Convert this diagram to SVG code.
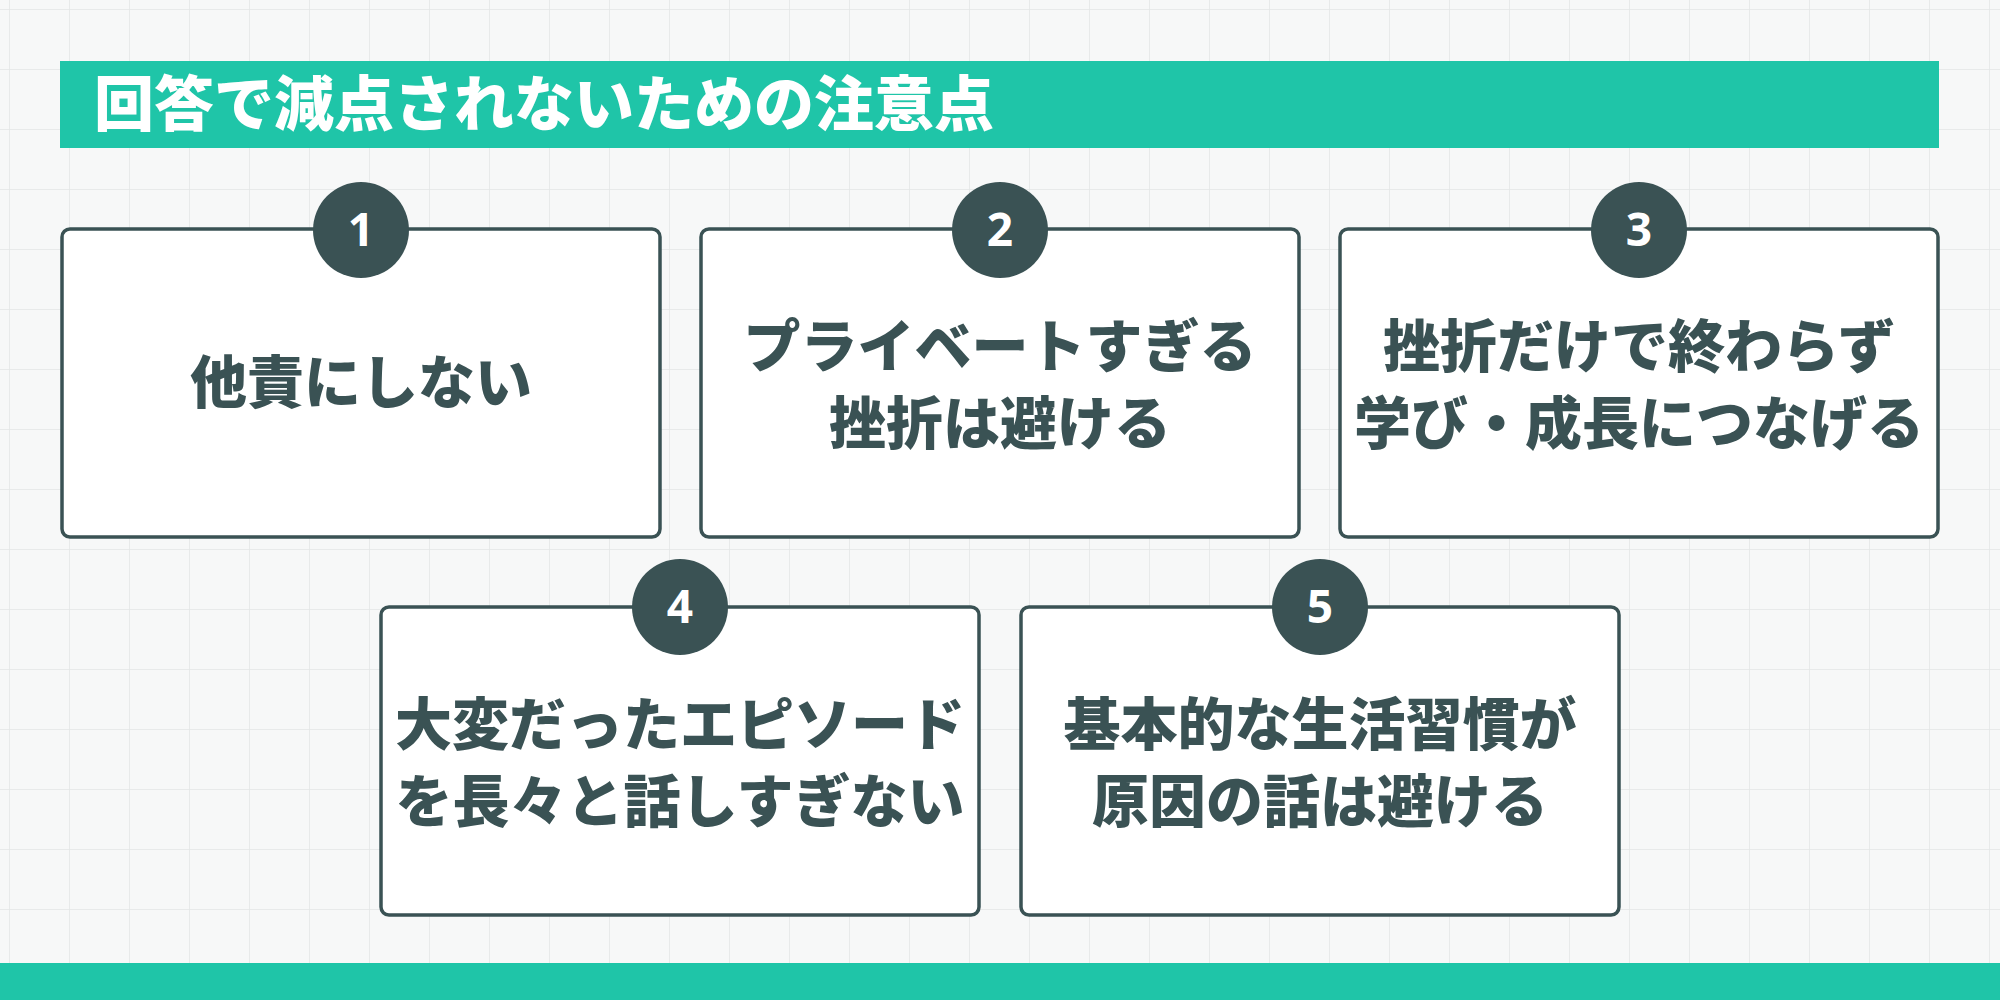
<svg xmlns="http://www.w3.org/2000/svg" width="2000" height="1000" viewBox="0 0 2000 1000">
<defs>
<pattern id="grid" width="60" height="60" patternUnits="userSpaceOnUse" x="10" y="10">
<path d="M60 0V60M0 60H60" fill="none" stroke="#e3e6e6" stroke-width="1.5"/>
</pattern>
<style>
.box{fill:#fff;stroke:#3a5254;stroke-width:3.5}
.c{fill:#3a5254}
.n{font-family:"Noto Sans",sans-serif;font-weight:700;font-size:46px;fill:#fff;text-anchor:middle}
.t{font-family:"Noto Sans CJK JP",sans-serif;font-weight:900;font-size:57px;fill:#3a5254;text-anchor:middle}
</style>
</defs>
<rect width="2000" height="1000" fill="#f7f8f8"/>
<rect width="2000" height="1000" fill="url(#grid)"/>
<rect x="60" y="61" width="1879" height="87" fill="#1fc5a8"/>
<text x="94" y="126" font-family="Noto Sans CJK JP,sans-serif" font-weight="900" font-size="60" fill="#fff">回答で減点されないための注意点</text>
<rect x="0" y="963" width="2000" height="37" fill="#1fc5a8"/>
<g id="node1"><rect class="box" x="62" y="229" width="598" height="308" rx="8"/><circle class="c" cx="361" cy="230" r="48"/><text class="n" x="361" y="246">1</text><text class="t" x="361" y="403">他責にしない</text></g>
<g id="node2"><rect class="box" x="701" y="229" width="598" height="308" rx="8"/><circle class="c" cx="1000" cy="230" r="48"/><text class="n" x="1000" y="246">2</text><text class="t" x="1000" y="367">プライベートすぎる</text><text class="t" x="1000" y="444">挫折は避ける</text></g>
<g id="node3"><rect class="box" x="1340" y="229" width="598" height="308" rx="8"/><circle class="c" cx="1639" cy="230" r="48"/><text class="n" x="1639" y="246">3</text><text class="t" x="1639" y="367">挫折だけで終わらず</text><text class="t" x="1639" y="444">学び・成長につなげる</text></g>
<g id="node4"><rect class="box" x="381" y="607" width="598" height="308" rx="8"/><circle class="c" cx="680" cy="607" r="48"/><text class="n" x="680" y="623">4</text><text class="t" x="680" y="745">大変だったエピソード</text><text class="t" x="680" y="822">を長々と話しすぎない</text></g>
<g id="node5"><rect class="box" x="1021" y="607" width="598" height="308" rx="8"/><circle class="c" cx="1320" cy="607" r="48"/><text class="n" x="1320" y="623">5</text><text class="t" x="1320" y="745">基本的な生活習慣が</text><text class="t" x="1320" y="822">原因の話は避ける</text></g>
<g id="connectors"/>
</svg>
